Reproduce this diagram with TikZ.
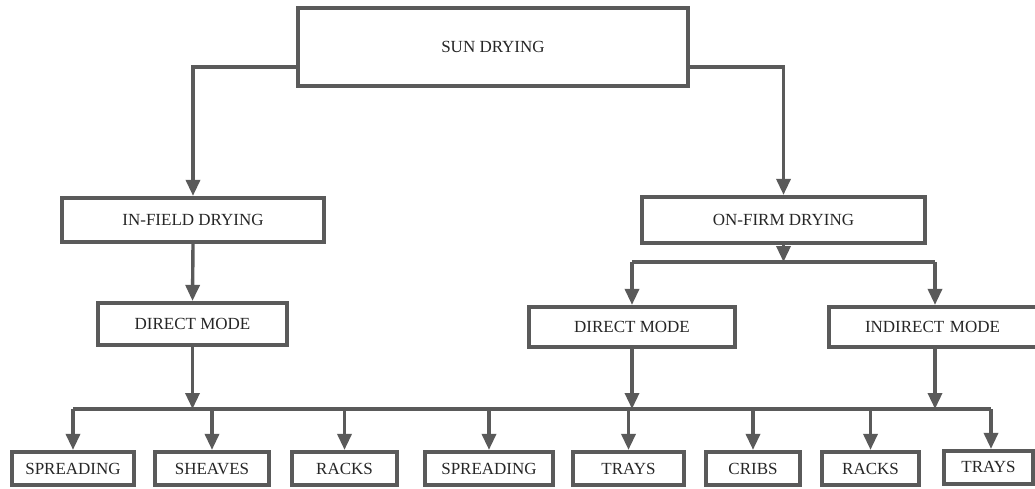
\documentclass[tikz,border=0pt]{standalone}
\usepackage{fontspec}
\setmainfont{Liberation Serif}
\usetikzlibrary{arrows.meta}
\definecolor{ln}{HTML}{5A5A5A}
\begin{document}
\begin{tikzpicture}[x=1pt,y=-1pt,
  box/.style={draw=ln,line width=4.2pt,fill=white,inner sep=0pt,
    font=\fontsize{17}{19}\selectfont,text=black!85},
  con/.style={draw=ln,line width=3.4pt},
  arr/.style={con,-{Triangle[length=16pt,width=14pt]}}]
\useasboundingbox (0,0) rectangle (1035,488);
\node[box,minimum width=390pt,minimum height=78pt] (sun) at (493,47) {SUN DRYING};
\node[box,minimum width=262pt,minimum height=44pt] (infield) at (193,220) {IN-FIELD DRYING};
\node[box,minimum width=189pt,minimum height=42pt] (dma) at (192.5,324) {DIRECT MODE};
\node[box,minimum width=283pt,minimum height=46pt] (onfirm) at (783.5,220) {ON-FIRM DRYING};
\node[box,minimum width=206pt,minimum height=40pt] (dmb) at (632,327) {DIRECT MODE};
\node[box,minimum width=215pt,minimum height=40pt,text width=215pt,align=left] (indm) at (936.5,327) {\hspace*{36pt}INDIRECT MODE};
\node[box,minimum width=122pt,minimum height=33pt] (spa) at (73,468.5) {SPREADING};
\node[box,minimum width=114pt,minimum height=33pt] (sh) at (212,468.5) {SHEAVES};
\node[box,minimum width=105pt,minimum height=33pt] (raa) at (344.5,468.5) {RACKS};
\node[box,minimum width=128pt,minimum height=33pt] (spb) at (489,468.5) {SPREADING};
\node[box,minimum width=111pt,minimum height=33pt] (tra) at (628.5,468.5) {TRAYS};
\node[box,minimum width=94pt,minimum height=33pt] (cr) at (753,468.5) {CRIBS};
\node[box,minimum width=97pt,minimum height=33pt] (rab) at (870.5,468.5) {RACKS};
\node[box,minimum width=89pt,minimum height=33pt] (trb) at (988.5,467.5) {\raisebox{2pt}{TRAYS}};
\coordinate (bus) at (0,409);
\coordinate (busb) at (0,262);
\coordinate (indx) at (935,0);
\coordinate (trx) at (991,0);
% top level
\draw[arr] ([yshift=-20pt]sun.west) -| (infield.north);
\draw[arr] ([yshift=-20pt]sun.east) -| (onfirm.north);
\draw[arr] (infield.south) -- (dma.north);
% on-firm split
\draw[con] (dmb.north |- busb) -- (indx |- busb);
\draw[arr] (onfirm.south) -- (onfirm.south |- busb);
\draw[arr] (dmb.north |- busb) -- (dmb.north);
\draw[arr] (indx |- busb) -- (indx |- indm.north);
% bottom bus
\draw[con] (spa.north |- bus) -- (trx |- bus);
\draw[arr] (dma.south) -- (dma.south |- bus);
\draw[arr] (dmb.south) -- (dmb.south |- bus);
\draw[arr] (indx |- indm.south) -- (indx |- bus);
\draw[arr] (spa.north |- bus) -- (spa.north);
\draw[arr] (sh.north |- bus) -- (sh.north);
\draw[arr] (raa.north |- bus) -- (raa.north);
\draw[arr] (spb.north |- bus) -- (spb.north);
\draw[arr] (tra.north |- bus) -- (tra.north);
\draw[arr] (cr.north |- bus) -- (cr.north);
\draw[arr] (rab.north |- bus) -- (rab.north);
\draw[arr] (trx |- bus) -- (trx |- trb.north);
\end{tikzpicture}
\end{document}
